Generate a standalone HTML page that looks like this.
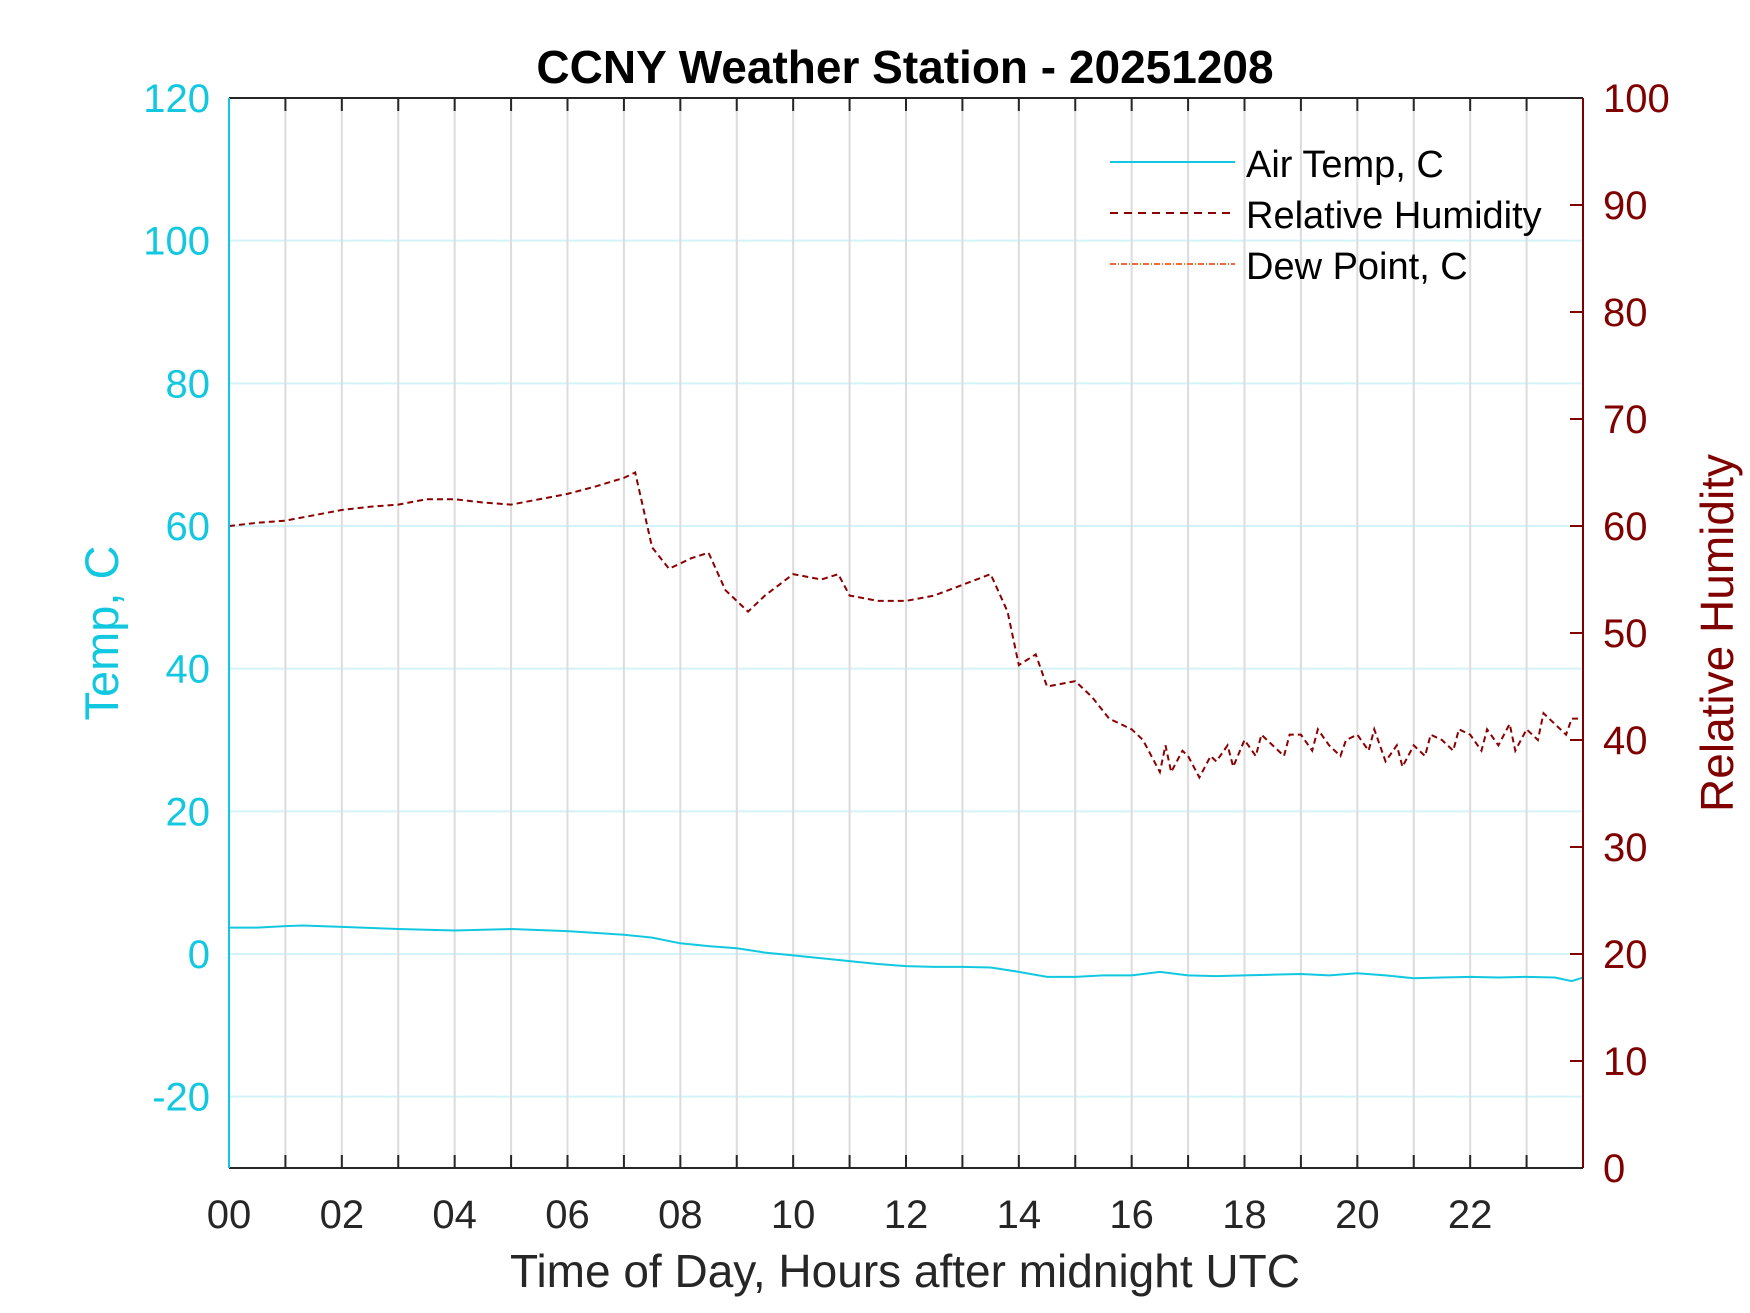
<!DOCTYPE html>
<html><head><meta charset="utf-8"><style>
html,body{margin:0;padding:0;background:#fff;}
svg{display:block;font-family:"Liberation Sans",Arial,sans-serif;}
</style></head><body>
<svg id="chart" width="1750" height="1313" viewBox="0 0 1750 1313">
<rect width="1750" height="1313" fill="#fff"/>
<g id="grid"></g>
<g id="series"></g>
<g id="axes"></g>
<text x="905" y="83" text-anchor="middle" font-size="46" font-weight="bold" fill="#000">CCNY Weather Station - 20251208</text>
<text x="905" y="1287" text-anchor="middle" font-size="46" fill="#262626">Time of Day, Hours after midnight UTC</text>
<text transform="translate(118,633) rotate(-90)" text-anchor="middle" font-size="47" fill="#12c8e0">Temp, C</text>
<text transform="translate(1733,633) rotate(-90)" text-anchor="middle" font-size="46" fill="#800000">Relative Humidity</text>
<g>
<line x1="1110" y1="162" x2="1235" y2="162" stroke="#12c8e0" stroke-width="2"/>
<text x="1246" y="177" font-size="38" fill="#000">Air Temp, C</text>
<line x1="1110" y1="213" x2="1235" y2="213" stroke="#8b0000" stroke-width="2" stroke-dasharray="8,6"/>
<text x="1246" y="228" font-size="38" fill="#000">Relative Humidity</text>
<line x1="1110" y1="264" x2="1235" y2="264" stroke="#ee6a3c" stroke-width="2" stroke-dasharray="6,2,1,2"/>
<text x="1246" y="279" font-size="38" fill="#000">Dew Point, C</text>
</g>
</svg>
<script>
const tempTicks=[-20,0,20,40,60,80,100,120];
const rhTicks=[0,10,20,30,40,50,60,70,80,90,100];
const hourLabels=["00","02","04","06","08","10","12","14","16","18","20","22"];
const tempHours=[0,0.5,1,1.3,2,3,4,4.5,5,6,7,7.5,8,8.5,9,9.5,10,10.5,11,11.5,12,12.5,13,13.5,14,14.5,15,15.5,16,16.5,17,17.5,18,18.5,19,19.5,20,20.5,21,21.5,22,22.5,23,23.5,23.8,24];
const tempValues=[3.7,3.7,3.9,4.0,3.8,3.5,3.3,3.4,3.5,3.2,2.7,2.3,1.5,1.1,0.8,0.2,-0.2,-0.6,-1.0,-1.4,-1.7,-1.8,-1.8,-1.9,-2.5,-3.2,-3.2,-3.0,-3.0,-2.5,-3.0,-3.1,-3.0,-2.9,-2.8,-3.0,-2.7,-3.0,-3.4,-3.3,-3.2,-3.3,-3.2,-3.3,-3.8,-3.3];
const rhHours=[0,0.5,1,1.5,2,2.5,3,3.5,4,4.5,5,5.5,6,6.5,7,7.2,7.5,7.8,8.2,8.5,8.8,9.2,9.5,10,10.5,10.8,11,11.5,12,12.5,13,13.5,13.8,14,14.3,14.5,15,15.3,15.6,16,16.2,16.3,16.5,16.6,16.7,16.9,17,17.2,17.4,17.5,17.7,17.8,18,18.2,18.3,18.5,18.7,18.8,19,19.2,19.3,19.5,19.7,19.8,20,20.2,20.3,20.5,20.7,20.8,21,21.2,21.3,21.5,21.7,21.8,22,22.2,22.3,22.5,22.7,22.8,23,23.2,23.3,23.5,23.7,23.8,24];
const rhValues=[60,60.3,60.5,61,61.5,61.8,62,62.5,62.5,62.2,62,62.5,63,63.7,64.5,65,58,56,57,57.5,54,52,53.5,55.5,55,55.5,53.5,53,53,53.5,54.5,55.5,52,47,48,45,45.5,44,42,41,40,39,37,39.5,37,39,38.5,36.5,38.5,38,39.5,37.5,40,38.5,40.5,39.5,38.5,40.5,40.5,39,41,39.5,38.5,40,40.5,39,41,38,39.5,37.5,39.5,38.5,40.5,40,39,41,40.5,39,41,39.5,41.5,39,41,40,42.5,41.5,40.5,42,42];
const L=229,R=1583,T=98,B=1168,NS="http://www.w3.org/2000/svg";
const x=h=>L+(h/24)*(R-L);
const yT=v=>B-(v+30)/150*(B-T);
const yR=v=>B-v/100*(B-T);
function mk(tag,attrs,parent){const e=document.createElementNS(NS,tag);for(const k in attrs)e.setAttribute(k,attrs[k]);parent.appendChild(e);return e;}
const grid=document.getElementById('grid'),axes=document.getElementById('axes'),ser=document.getElementById('series');
tempTicks.forEach(v=>{const l=mk('line',{x1:L,x2:R,y1:yT(v),y2:yT(v),stroke:'#d4f3f8','stroke-width':2},grid);


const t=mk('text',{x:210,y:yT(v)+14,'text-anchor':'end','font-size':40,fill:'#12c8e0'},axes);t.textContent=v;

});
for(let h=1;h<24;h++){const l=mk('line',{x1:x(h),x2:x(h),y1:T,y2:B,stroke:'#dcdcdc','stroke-width':2},grid);


const a=mk('line',{x1:x(h),x2:x(h),y1:B,y2:B-13,stroke:'#262626','stroke-width':2},axes);


const b=mk('line',{x1:x(h),x2:x(h),y1:T,y2:T+13,stroke:'#262626','stroke-width':2},axes);

}
hourLabels.forEach((s,i)=>{const t=mk('text',{x:x(i*2),y:1228,'text-anchor':'middle','font-size':40,fill:'#262626'},axes);t.textContent=s;

});
rhTicks.forEach(v=>{const a=mk('line',{x1:R,x2:R-13,y1:yR(v),y2:yR(v),stroke:'#800000','stroke-width':2},axes);


const t=mk('text',{x:1603,y:yR(v)+14,'font-size':40,fill:'#800000'},axes);t.textContent=v;

});
const lt=mk('line',{x1:L,x2:R,y1:T,y2:T,stroke:'#262626','stroke-width':2},axes);


const lb=mk('line',{x1:L,x2:R,y1:B,y2:B,stroke:'#262626','stroke-width':2},axes);


const ll=mk('line',{x1:L,x2:L,y1:T,y2:B,stroke:'#12c8e0','stroke-width':2},axes);


const lr=mk('line',{x1:R,x2:R,y1:T,y2:B,stroke:'#800000','stroke-width':2},axes);


const pt=mk('polyline',{points:tempHours.map((h,i)=>x(h)+','+yT(tempValues[i])).join(' '),fill:'none',stroke:'#12c8e0','stroke-width':2},ser);


const pr=mk('polyline',{points:rhHours.map((h,i)=>x(h)+','+yR(rhValues[i])).join(' '),fill:'none',stroke:'#8b0000','stroke-width':2,'stroke-dasharray':'6,4'},ser);


</script>
</body></html>
